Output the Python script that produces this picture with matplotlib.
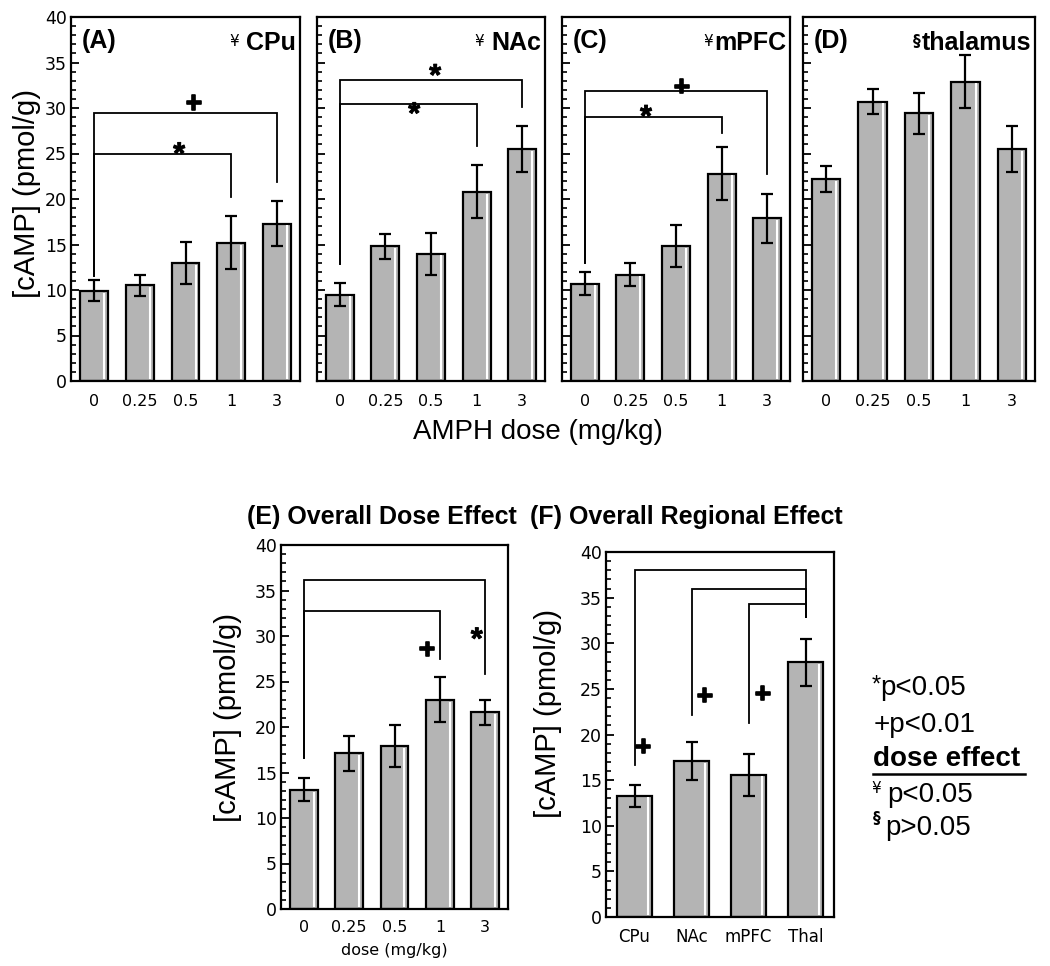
import matplotlib
matplotlib.use('Agg')
import matplotlib.pyplot as plt
from matplotlib.ticker import MultipleLocator, NullFormatter
from matplotlib.textpath import TextPath
from matplotlib.font_manager import FontProperties
from matplotlib.transforms import offset_copy
from matplotlib.lines import Line2D
import matplotlib.patheffects as pe

# ---------------- data ----------------
doses = ['0', '0.25', '0.5', '1', '3']
regions = ['CPu', 'NAc', 'mPFC', 'Thal']

cpu_mean = [9.9, 10.5, 13.0, 15.2, 17.3]
cpu_sem = [1.15, 1.2, 2.3, 2.9, 2.45]
nac_mean = [9.5, 14.8, 14.0, 20.8, 25.5]
nac_sem = [1.25, 1.35, 2.3, 2.9, 2.55]
mpfc_mean = [10.7, 11.7, 14.8, 22.8, 17.9]
mpfc_sem = [1.25, 1.25, 2.3, 2.9, 2.7]
thal_mean = [22.2, 30.7, 29.4, 32.9, 25.5]
thal_sem = [1.4, 1.35, 2.3, 2.9, 2.55]
dose_mean = [13.1, 17.1, 17.9, 23.0, 21.6]
dose_sem = [1.25, 1.95, 2.3, 2.45, 1.4]
region_mean = [13.3, 17.1, 15.6, 27.9]
region_sem = [1.2, 2.05, 2.3, 2.6]

# significance brackets: (left index, right index, bracket y, left end y, right end y)
cpu_brackets = [(0, 4, 29.5, 11.5, 21.9), (0, 3, 24.9, 11.5, 20.2)]
nac_brackets = [(0, 4, 33.1, 12.9, 30.1), (0, 3, 30.4, 12.9, 25.8)]
mpfc_brackets = [(0, 4, 31.9, 13.0, 22.7), (0, 3, 29.0, 13.0, 27.3)]
dose_brackets = [(0, 4, 36.2, 16.6, 25.8), (0, 3, 32.8, 16.6, 27.5)]
region_brackets = [(0, 3, 38.0, 16.7, 32.9), (1, 3, 35.9, 22.1, 32.9), (2, 3, 34.3, 21.3, 32.9)]

# significance symbols: (symbol, x, y)
cpu_marks = [('+', 2.18, 30.6), ('*', 1.86, 25.6)]
nac_marks = [('*', 2.09, 34.2), ('*', 1.63, 30.0)]
mpfc_marks = [('+', 2.12, 32.4), ('*', 1.34, 29.7)]
dose_marks = [('+', 2.72, 28.6), ('*', 3.81, 30.3)]
region_marks = [('+', 0.15, 18.7), ('+', 1.23, 24.3), ('+', 2.25, 24.5)]

# ---------------- style ----------------
W, H = 1050, 966
fig = plt.figure(figsize=(W / 100, H / 100), dpi=100)
BAR = '#b4b4b4'
SANS = 'Liberation Sans'
TICKF = 'DejaVu Sans'


def px_axes(x0, y0, x1, y1):
    return fig.add_axes([x0 / W, 1 - y1 / H, (x1 - x0) / W, (y1 - y0) / H])


def ink_text(x, y, s, size, transform, weight='bold', family=SANS, stroke=0):
    fp = FontProperties(family=family, weight=weight, size=size)
    ext = TextPath((0, 0), s, size=size, prop=fp).get_extents()
    dy = -(ext.y0 + ext.y1) / 2
    tr = offset_copy(transform, fig=fig, x=0, y=dy, units='points')
    t = fig.text(x, y, s, transform=tr, ha='center', va='baseline', fontproperties=fp)
    if stroke:
        t.set_path_effects([pe.withStroke(linewidth=stroke, foreground='black')])
    return t


def draw_panel(ax, cats, mean, sem, width, hl_off, labels_y=True, xfs=11.5):
    x = list(range(len(cats)))
    ax.bar(x, mean, width=width, color=BAR, edgecolor='black', linewidth=1.6, zorder=2)
    for xi, m in zip(x, mean):
        ax.plot([xi + width / 2 - hl_off] * 2, [0.2, m - 0.2], color='white',
                lw=1.5, zorder=3, solid_capstyle='butt')
    ax.errorbar(x, mean, yerr=sem, fmt='none', ecolor='black', elinewidth=1.6,
                capsize=4, capthick=1.6, zorder=4)
    ax.set_xlim(-0.5, len(cats) - 0.5)
    ax.set_ylim(0, 40)
    ax.set_xticks(x)
    ax.set_xticklabels(cats, fontfamily=TICKF, fontsize=xfs)
    ax.tick_params(axis='x', length=0, pad=9)
    ax.yaxis.set_major_locator(MultipleLocator(5))
    ax.yaxis.set_minor_locator(MultipleLocator(1))
    ax.tick_params(axis='y', which='major', direction='in', length=6, width=1.3,
                   labelsize=12.5, pad=3)
    ax.tick_params(axis='y', which='minor', direction='in', length=3.5, width=1.2)
    for lab in ax.get_yticklabels():
        lab.set_fontfamily(TICKF)
    if not labels_y:
        ax.yaxis.set_major_formatter(NullFormatter())
    for sp in ax.spines.values():
        sp.set_linewidth(1.6)


def draw_brackets(ax, brackets):
    for li, ri, yb, yl, yr in brackets:
        ax.plot([li, li, ri, ri], [yl, yb, yb, yr], color='black', lw=1.3, zorder=5,
                solid_joinstyle='miter')


def draw_marks(ax, marks):
    for s, xm, ym in marks:
        if s == '+':
            ink_text(xm, ym, s, 20, ax.transData, stroke=1.2)
        else:
            ink_text(xm, ym, s, 22, ax.transData, stroke=0.6)


def panel_label(ax, letter, sym, name, sym_bold=False, gap=3):
    ax.text(0.048, 0.935, letter, transform=ax.transAxes, ha='left', va='center',
            fontfamily=SANS, fontweight='bold', fontsize=18)
    t = ax.text(0.983, 0.908, name, transform=ax.transAxes, ha='right', va='baseline',
                fontfamily=SANS, fontweight='bold', fontsize=18)
    ax.annotate(sym, xy=(0, 0.88), xycoords=t, xytext=(-gap, 0),
                textcoords='offset points', ha='right', va='top',
                fontfamily='DejaVu Sans', fontweight='bold' if sym_bold else 'normal',
                fontsize=11)


# ---------------- top row ----------------
axA = px_axes(71, 17, 300, 381)
axB = px_axes(317, 17, 545, 381)
axC = px_axes(562, 17, 790, 381)
axD = px_axes(803, 17, 1035, 381)

draw_panel(axA, doses, cpu_mean, cpu_sem, 0.61, 0.085, True)
draw_panel(axB, doses, nac_mean, nac_sem, 0.61, 0.085, False)
draw_panel(axC, doses, mpfc_mean, mpfc_sem, 0.61, 0.085, False)
draw_panel(axD, doses, thal_mean, thal_sem, 0.61, 0.085, False)

draw_brackets(axA, cpu_brackets)
draw_brackets(axB, nac_brackets)
draw_brackets(axC, mpfc_brackets)
draw_marks(axA, cpu_marks)
draw_marks(axB, nac_marks)
draw_marks(axC, mpfc_marks)

panel_label(axA, '(A)', '¥', 'CPu', gap=5)
panel_label(axB, '(B)', '¥', 'NAc', gap=5)
panel_label(axC, '(C)', '¥', 'mPFC', gap=0.5)
panel_label(axD, '(D)', '§', 'thalamus', sym_bold=True, gap=0.5)

fig.text(27 / W, 1 - 193 / H, '[cAMP] (pmol/g)', rotation=90, ha='center', va='center',
         fontfamily=SANS, fontsize=21)
fig.text(538 / W, 1 - 432 / H, 'AMPH dose (mg/kg)', ha='center', va='center',
         fontfamily=SANS, fontsize=20)

# ---------------- bottom row ----------------
axE = px_axes(281, 545, 508, 909)
axF = px_axes(606, 552, 834, 917)

draw_panel(axE, doses, dose_mean, dose_sem, 0.61, 0.085, True)
draw_panel(axF, regions, region_mean, region_sem, 0.63, 0.07, True, xfs=12)
axE.tick_params(axis='x', pad=8)
axF.tick_params(axis='x', pad=8)

draw_brackets(axE, dose_brackets)
draw_brackets(axF, region_brackets)
draw_marks(axE, dose_marks)
draw_marks(axF, region_marks)

axE.set_xlabel('dose (mg/kg)', fontfamily=TICKF, fontsize=11.5, labelpad=6)

fig.text(228 / W, 1 - 717 / H, '[cAMP] (pmol/g)', rotation=90, ha='center', va='center',
         fontfamily=SANS, fontsize=21)
fig.text(548 / W, 1 - 713 / H, '[cAMP] (pmol/g)', rotation=90, ha='center', va='center',
         fontfamily=SANS, fontsize=21)

fig.text(247 / W, 1 - 517 / H, '(E) Overall Dose Effect', ha='left', va='center',
         fontfamily=SANS, fontweight='bold', fontsize=18)
fig.text(530 / W, 1 - 517 / H, '(F) Overall Regional Effect', ha='left', va='center',
         fontfamily=SANS, fontweight='bold', fontsize=18)

# ---------------- significance key ----------------
KEY = 20
fig.text(880 / W, 1 - 695 / H, 'p<0.05', ha='left', va='baseline', fontfamily=SANS, fontsize=KEY)
ink_text(876 / W, 1 - 679 / H, '*', 17, fig.transFigure, weight='normal')
fig.text(874 / W, 1 - 731.5 / H, '+p<0.01', ha='left', va='baseline', fontfamily=SANS, fontsize=KEY)
fig.text(873 / W, 1 - 766.5 / H, 'dose effect', ha='left', va='baseline', fontfamily=SANS,
         fontweight='bold', fontsize=KEY)
fig.add_artist(Line2D([873 / W, 1025 / W], [1 - 773.5 / H, 1 - 773.5 / H], color='black',
                      lw=1.8, transform=fig.transFigure))
ink_text(876.5 / W, 1 - 787 / H, '¥', 11, fig.transFigure, weight='normal', family='DejaVu Sans')
fig.text(887 / W, 1 - 801.5 / H, 'p<0.05', ha='left', va='baseline', fontfamily=SANS, fontsize=KEY)
ink_text(876.5 / W, 1 - 818 / H, '§', 11, fig.transFigure, weight='bold', family='DejaVu Sans')
fig.text(885 / W, 1 - 835 / H, 'p>0.05', ha='left', va='baseline', fontfamily=SANS, fontsize=KEY)

fig.savefig('out.png', dpi=100)
